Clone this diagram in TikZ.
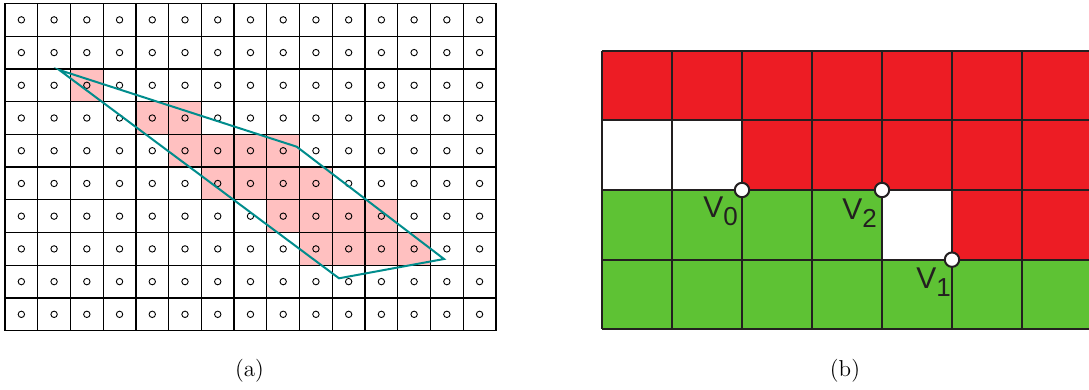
\documentclass[tikz,border=0pt]{standalone}
\usepackage{fontspec}
\newfontfamily\lsans{Liberation Sans}
\definecolor{pinkc}{RGB}{255,192,192}
\definecolor{tealc}{RGB}{0,140,140}
\definecolor{redc}{RGB}{237,28,36}
\definecolor{greenc}{RGB}{94,194,52}
\definecolor{darkc}{RGB}{35,31,32}
\tikzset{
  gridline/.style={line width=0.65pt, draw=black},
  dot/.style={line width=0.45pt, draw=black},
  poly/.style={line width=1pt, draw=tealc, line join=miter},
  bgrid/.style={line width=1pt, draw=darkc},
  vert/.style={circle, fill=white, draw=darkc, line width=1pt, minimum size=7.2pt, inner sep=0pt},
  vlab/.style={font=\lsans\fontsize{15}{17}\selectfont, text=darkc, inner sep=0pt, anchor=base west},
  captext/.style={font=\fontsize{11.5}{14}\selectfont, inner sep=0pt}
}
\newcommand{\vsub}[1]{\raisebox{-4pt}{\fontsize{13}{15}\selectfont #1}}
\begin{document}
\begin{tikzpicture}[x=0.5pt, y=-0.5pt]
\useasboundingbox (0,0) rectangle (1089,390);
% ---------- (a) ----------
\def\cw{32.73}
\def\ch{32.72}
\def\xo{5}
\def\yo{3.5}
\foreach \c/\r in {2/2,4/3,5/3,5/4,6/4,7/4,8/4,6/5,7/5,8/5,9/5,8/6,9/6,10/6,11/6,9/7,10/7,11/7,12/7}{
  \fill[pinkc] ({\xo+\c*\cw},{\yo+\r*\ch}) rectangle ({\xo+(\c+1)*\cw},{\yo+(\r+1)*\ch});
}
\foreach \i in {0,...,15}{
  \draw[gridline] ({\xo+\i*\cw},{\yo}) -- ({\xo+\i*\cw},{\yo+10*\ch});
}
\foreach \j in {0,...,10}{
  \draw[gridline] ({\xo},{\yo+\j*\ch}) -- ({\xo+15*\cw},{\yo+\j*\ch});
}
\foreach \c in {0,...,14}{
  \foreach \r in {0,...,9}{
    \draw[dot] ({\xo+(\c+0.5)*\cw},{\yo+(\r+0.5)*\ch}) circle (3.2);
  }
}
\coordinate (p1) at (59.3,70);
\coordinate (p2) at (296.7,146.7);
\coordinate (p3) at (444,259);
\coordinate (p4) at (339,278.3);
\draw[poly] (p1) -- (p2) -- (p3) -- (p4) -- cycle;
\node[captext] (capa) at (249.5,371) {(a)};
% ---------- (b) ----------
\def\bw{70}
\def\bh{69.65}
\def\bx{602}
\def\by{50.7}
\begin{scope}
\clip (590,40) rectangle (1089,340);
\foreach \c/\r/\col in {0/0/redc,1/0/redc,2/0/redc,3/0/redc,4/0/redc,5/0/redc,6/0/redc,
  0/1/white,1/1/white,2/1/redc,3/1/redc,4/1/redc,5/1/redc,6/1/redc,
  0/2/greenc,1/2/greenc,2/2/greenc,3/2/greenc,4/2/white,5/2/redc,6/2/redc,
  0/3/greenc,1/3/greenc,2/3/greenc,3/3/greenc,4/3/greenc,5/3/greenc,6/3/greenc}{
  \fill[\col] ({\bx+\c*\bw},{\by+\r*\bh}) rectangle ({\bx+(\c+1)*\bw},{\by+(\r+1)*\bh});
}
\foreach \i in {0,...,7}{
  \draw[bgrid] ({\bx+\i*\bw},{\by}) -- ({\bx+\i*\bw},{\by+4*\bh});
}
\foreach \j in {0,...,4}{
  \draw[bgrid] ({\bx},{\by+\j*\bh}) -- ({\bx+7*\bw},{\by+\j*\bh});
}
\end{scope}
\node[vert] (v0) at ({\bx+2*\bw},{\by+2*\bh}) {};
\node[vert] (v2) at ({\bx+4*\bw},{\by+2*\bh}) {};
\node[vert] (v1) at ({\bx+5*\bw},{\by+3*\bh}) {};
\node[vlab] (l0) at (703,218) {V\vsub{0}};
\node[vlab] (l2) at (842,220) {V\vsub{2}};
\node[vlab] (l1) at (916,289) {V\vsub{1}};
\node[captext] (capb) at (845,371) {(b)};
\end{tikzpicture}
\end{document}
